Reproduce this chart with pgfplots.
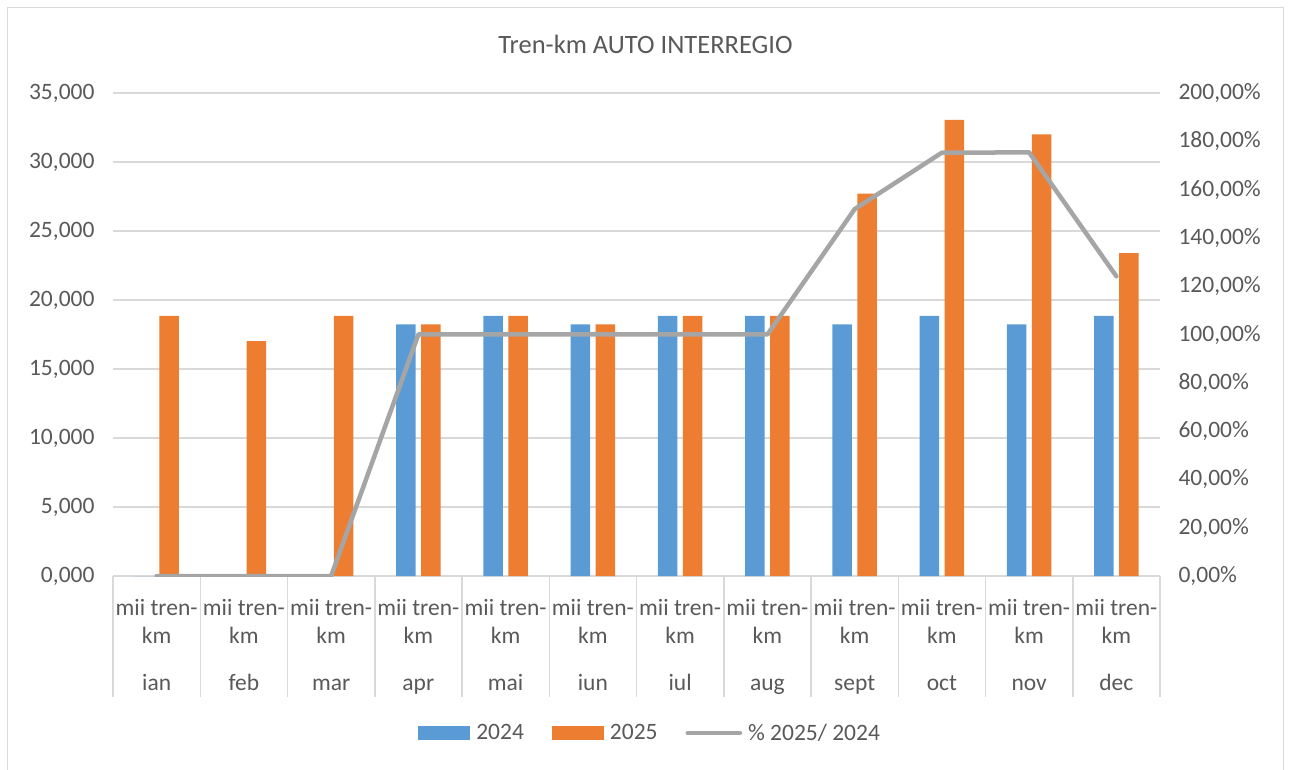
\documentclass[border=0pt]{standalone}
\usepackage{pgfplots}
\pgfplotsset{compat=1.18}
\usepackage{pgfplotstable}
\usepackage{fontspec}
\setmainfont{Carlito}
\definecolor{c24}{HTML}{5B9BD5}
\definecolor{c25}{HTML}{ED7D31}
\definecolor{cpct}{HTML}{A5A5A5}
\definecolor{cgrid}{HTML}{D9D9D9}
\definecolor{ctxt}{HTML}{595959}

\pgfplotstableread{
x y24 y25 pct
0 0 18.85 0
1 0 17.02 0
2 0 18.85 0
3 18.24 18.24 100
4 18.85 18.85 100
5 18.24 18.24 100
6 18.85 18.85 100
7 18.85 18.85 100
8 18.24 27.70 151.9
9 18.85 33.05 175.3
10 18.24 32.00 175.4
11 18.85 23.40 124.1
}\data

\newcommand{\tf}{\fontsize{23.5}{28}\selectfont}

\begin{document}
\begin{tikzpicture}[x=1pt,y=1pt]
\useasboundingbox (0,0) rectangle (1289,769);
\draw[cgrid, line width=1.5pt] (7.5,-10) rectangle (1283.5,761.5);
\node[text=ctxt, font=\fontsize{26.5}{32}\selectfont] at (645.5,725) {Tren-km AUTO INTERREGIO};

\begin{axis}[
  at={(113pt,193pt)}, anchor=south west,
  scale only axis, width=1047pt, height=483pt,
  ybar=5.5pt, bar width=19.5pt,
  xmin=-0.5, xmax=11.5, ymin=0, ymax=35,
  axis line style={draw=none},
  ytick={0,5,...,35},
  yticklabels={{0,000},{5,000},{10,000},{15,000},{20,000},{25,000},{30,000},{35,000}},
  ymajorgrids, grid style={cgrid, line width=1.5pt},
  ytick pos=left, xtick pos=bottom,
  major tick length=0pt,
  yticklabel style={text=ctxt, font=\tf, xshift=-15pt},
  xtick={0,...,11},
  xticklabels={{mii tren-\\km\\[19pt]ian},{mii tren-\\km\\[19pt]feb},{mii tren-\\km\\[19pt]mar},{mii tren-\\km\\[19pt]apr},{mii tren-\\km\\[19pt]mai},{mii tren-\\km\\[19pt]iun},{mii tren-\\km\\[19pt]iul},{mii tren-\\km\\[19pt]aug},{mii tren-\\km\\[19pt]sept},{mii tren-\\km\\[19pt]oct},{mii tren-\\km\\[19pt]nov},{mii tren-\\km\\[19pt]dec}},
  xticklabel style={text=ctxt, font=\tf, align=center, yshift=-20pt},
  extra x ticks={-0.5,0.5,...,11.5},
  extra x tick labels={},
  extra x tick style={tick align=outside, major tick length=121pt, tick style={cgrid, line width=1.5pt}},
  legend style={at={(0.513,-0.325)}, anchor=center, draw=none, fill=none,
    legend columns=3, font=\tf, text=ctxt,
    /tikz/every odd column/.append style={column sep=4pt},
    /tikz/every even column/.append style={column sep=26pt}},
]
\addplot[fill=c24, draw=none, legend image code/.code={\fill[c24] (0pt,-7pt) rectangle (52pt,7pt);}] table[x=x,y=y24]{\data};
\addlegendentry{2024}
\addplot[fill=c25, draw=none, legend image code/.code={\fill[c25] (0pt,-7pt) rectangle (52pt,7pt);}] table[x=x,y=y25]{\data};
\addlegendentry{2025}
\addlegendimage{legend image code/.code={\draw[cpct, line width=4.5pt, line cap=round] (2pt,0pt) -- (54pt,0pt);}}
\addlegendentry{\% 2025/ 2024}
\end{axis}

\begin{axis}[
  at={(113pt,193pt)}, anchor=south west,
  scale only axis, width=1047pt, height=483pt,
  xmin=-0.5, xmax=11.5, ymin=0, ymax=200,
  axis line style={draw=none},
  axis x line=none,
  ytick={0,20,...,200},
  yticklabels={{0,00\%},{20,00\%},{40,00\%},{60,00\%},{80,00\%},{100,00\%},{120,00\%},{140,00\%},{160,00\%},{180,00\%},{200,00\%}},
  ytick pos=right,
  major tick length=0pt,
  yticklabel style={text=ctxt, font=\tf, xshift=15pt},
]
\addplot[cpct, line width=4.5pt, line join=round, line cap=round] table[x=x,y=pct]{\data};
\end{axis}
\end{tikzpicture}
\end{document}
